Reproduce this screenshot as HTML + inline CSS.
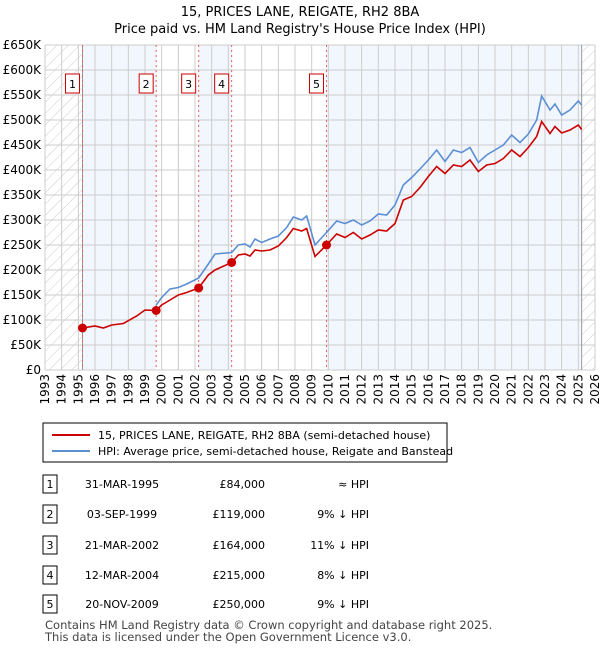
<!DOCTYPE html>
<html><head><meta charset="utf-8"><style>
body{margin:0;background:#fff;font-family:"Liberation Sans","DejaVu Sans",sans-serif;}
svg text{font-family:"DejaVu Sans","Liberation Sans",sans-serif;}
</style></head><body>
<svg id="c" width="600" height="650" xmlns="http://www.w3.org/2000/svg">
<defs><pattern id="h" width="8" height="8" patternUnits="userSpaceOnUse" patternTransform="rotate(45)"><line x1="0" y1="0" x2="0" y2="8" stroke="#ccc" stroke-width="1"/></pattern></defs>
<text x="300" y="16" text-anchor="middle" font-size="13">15, PRICES LANE, REIGATE, RH2 8BA</text>
<text x="300" y="33" text-anchor="middle" font-size="13">Price paid vs. HM Land Registry's House Price Index (HPI)</text>
<g id="plot"></g>
<rect x="43" y="423" width="404" height="39" fill="#fff" stroke="#000" stroke-width="1"/>
<line x1="52" y1="435" x2="90" y2="435" stroke="#cc0000" stroke-width="2"/>
<text x="98" y="439" font-size="11">15, PRICES LANE, REIGATE, RH2 8BA (semi-detached house)</text>
<line x1="52" y1="451" x2="90" y2="451" stroke="#5b8fd4" stroke-width="2"/>
<text x="98" y="455" font-size="11">HPI: Average price, semi-detached house, Reigate and Banstead</text>
<g id="tbl"></g>
<text x="45" y="629" font-size="11.5" fill="#444">Contains HM Land Registry data © Crown copyright and database right 2025.</text>
<text x="45" y="641" font-size="11.5" fill="#444">This data is licensed under the Open Government Licence v3.0.</text>
</svg>
<script>
const yTicks=[0,50,100,150,200,250,300,350,400,450,500,550,600,650];
const years=[1993,1994,1995,1996,1997,1998,1999,2000,2001,2002,2003,2004,2005,2006,2007,2008,2009,2010,2011,2012,2013,2014,2015,2016,2017,2018,2019,2020,2021,2022,2023,2024,2025,2026];
const saleDates=[1995.25,1999.67,2002.22,2004.2,2009.89];
const salePrices=[84,119,164,215,250];
const saleLabels=["1","2","3","4","5"];
const saleDateText=["31-MAR-1995","03-SEP-1999","21-MAR-2002","12-MAR-2004","20-NOV-2009"];
const salePriceText=["£84,000","£119,000","£164,000","£215,000","£250,000"];
const saleHpiText=["≈ HPI","9% ↓ HPI","11% ↓ HPI","8% ↓ HPI","9% ↓ HPI"];
const priceT=[1995.25,1996,1996.5,1997,1997.7,1998.5,1999,1999.67,2000,2000.5,2001,2001.5,2002.22,2002.8,2003.2,2004.2,2004.6,2005,2005.3,2005.6,2006,2006.5,2007,2007.5,2007.9,2008.4,2008.7,2009.2,2009.89,2010.5,2011,2011.5,2012,2012.5,2013,2013.5,2014,2014.5,2015,2015.5,2016,2016.5,2017,2017.5,2018,2018.5,2019,2019.5,2020,2020.5,2021,2021.5,2022,2022.5,2022.8,2023.3,2023.6,2024,2024.5,2025,2025.2];
const priceV=[84,88,84,90,93,108,120,119,130,140,150,155,164,190,200,215,230,232,228,240,238,240,248,265,283,278,283,227,250,272,265,275,262,270,280,278,293,340,347,365,387,407,393,410,407,420,397,410,413,423,440,427,445,467,497,473,487,474,480,490,481];
const hpiT=[1999.67,2000,2000.5,2001,2001.5,2002.22,2002.8,2003.2,2004.2,2004.6,2005,2005.3,2005.6,2006,2006.5,2007,2007.5,2007.9,2008.4,2008.7,2009.2,2009.89,2010.5,2011,2011.5,2012,2012.5,2013,2013.5,2014,2014.5,2015,2015.5,2016,2016.5,2017,2017.5,2018,2018.5,2019,2019.5,2020,2020.5,2021,2021.5,2022,2022.5,2022.8,2023.3,2023.6,2024,2024.5,2025,2025.2];
const hpiV=[130,145,162,165,172,184,212,232,235,250,252,246,262,255,262,268,285,306,300,308,250,275,298,293,300,290,298,312,310,330,370,385,402,420,440,417,440,435,445,415,430,440,450,470,455,472,500,548,520,532,510,520,538,530];
const X=v=>45+(v-1993)*(550/33), Y=v=>370-v*0.5;
const NS="http://www.w3.org/2000/svg";
function mk(p,t,a){const e=document.createElementNS(NS,t);for(const k in a)e.setAttribute(k,a[k]);p.appendChild(e);return e;}
const g=document.getElementById('plot');
const sh=[[saleDates[0],saleDates[1]],[saleDates[2],saleDates[3]],[saleDates[4],2025.2]];
sh.forEach(s=>{const r=mk(g,'rect',{x:X(s[0]),y:45,width:X(s[1])-X(s[0]),height:325,fill:'#eef3fc',opacity:0.75});

});
let hl=mk(g,'rect',{x:45,y:45,width:X(1995.25)-45,height:325,fill:'url(#h)'});


let hr=mk(g,'rect',{x:X(2025.2),y:45,width:595-X(2025.2),height:325,fill:'url(#h)'});


years.forEach(y=>{const l=mk(g,'line',{x1:X(y),x2:X(y),y1:45,y2:370,stroke:'#ccc'});


const t=mk(g,'text',{x:0,y:0,'font-size':12,'text-anchor':'end',transform:`translate(${X(y)+4},374) rotate(-90)`});t.textContent=y;

});
yTicks.forEach(v=>{const l=mk(g,'line',{x1:45,x2:595,y1:Y(v),y2:Y(v),stroke:'#ccc'});


const t=mk(g,'text',{x:41,y:Y(v)+4,'font-size':12,'text-anchor':'end'});t.textContent=v?'£'+v+'K':'£0';

});
[1995.25,2025.2].forEach(d=>{const l=mk(g,'line',{x1:X(d),x2:X(d),y1:45,y2:370,stroke:'#999'});

});
saleDates.forEach((d,i)=>{const l=mk(g,'line',{x1:X(d),x2:X(d),y1:45,y2:370,stroke:'#e06060','stroke-dasharray':'2,3'});


const b=mk(g,'rect',{x:X(d)-17,y:74,width:14,height:19,fill:'#fff',stroke:'#cc0000'});


const t=mk(g,'text',{x:X(d)-10,y:88,'font-size':11,'text-anchor':'middle'});t.textContent=saleLabels[i];

});
const hp=mk(g,'polyline',{points:hpiT.map((t,i)=>X(t)+','+Y(hpiV[i])).join(' '),fill:'none',stroke:'#5b8fd4','stroke-width':1.6});


const pp=mk(g,'polyline',{points:priceT.map((t,i)=>X(t)+','+Y(priceV[i])).join(' '),fill:'none',stroke:'#cc0000','stroke-width':1.6});


saleDates.forEach((d,i)=>{const c=mk(g,'circle',{cx:X(d),cy:Y(salePrices[i]),r:4.5,fill:'#cc0000'});

});
const tb=document.getElementById('tbl');
const rowY=[484,514,545,575,604];
rowY.forEach((y,i)=>{const b=mk(tb,'rect',{x:43,y:y-9,width:14,height:18,fill:'#fff',stroke:'#000'});


const cells=[[50,'middle',saleLabels[i]],[122,'middle',saleDateText[i]],[265,'end',salePriceText[i]],[369,'end',saleHpiText[i]]];
cells.forEach(c=>{const t=mk(tb,'text',{x:c[0],y:y+4,'font-size':11,'text-anchor':c[1]});t.textContent=c[2];

});});
</script>
</body></html>
